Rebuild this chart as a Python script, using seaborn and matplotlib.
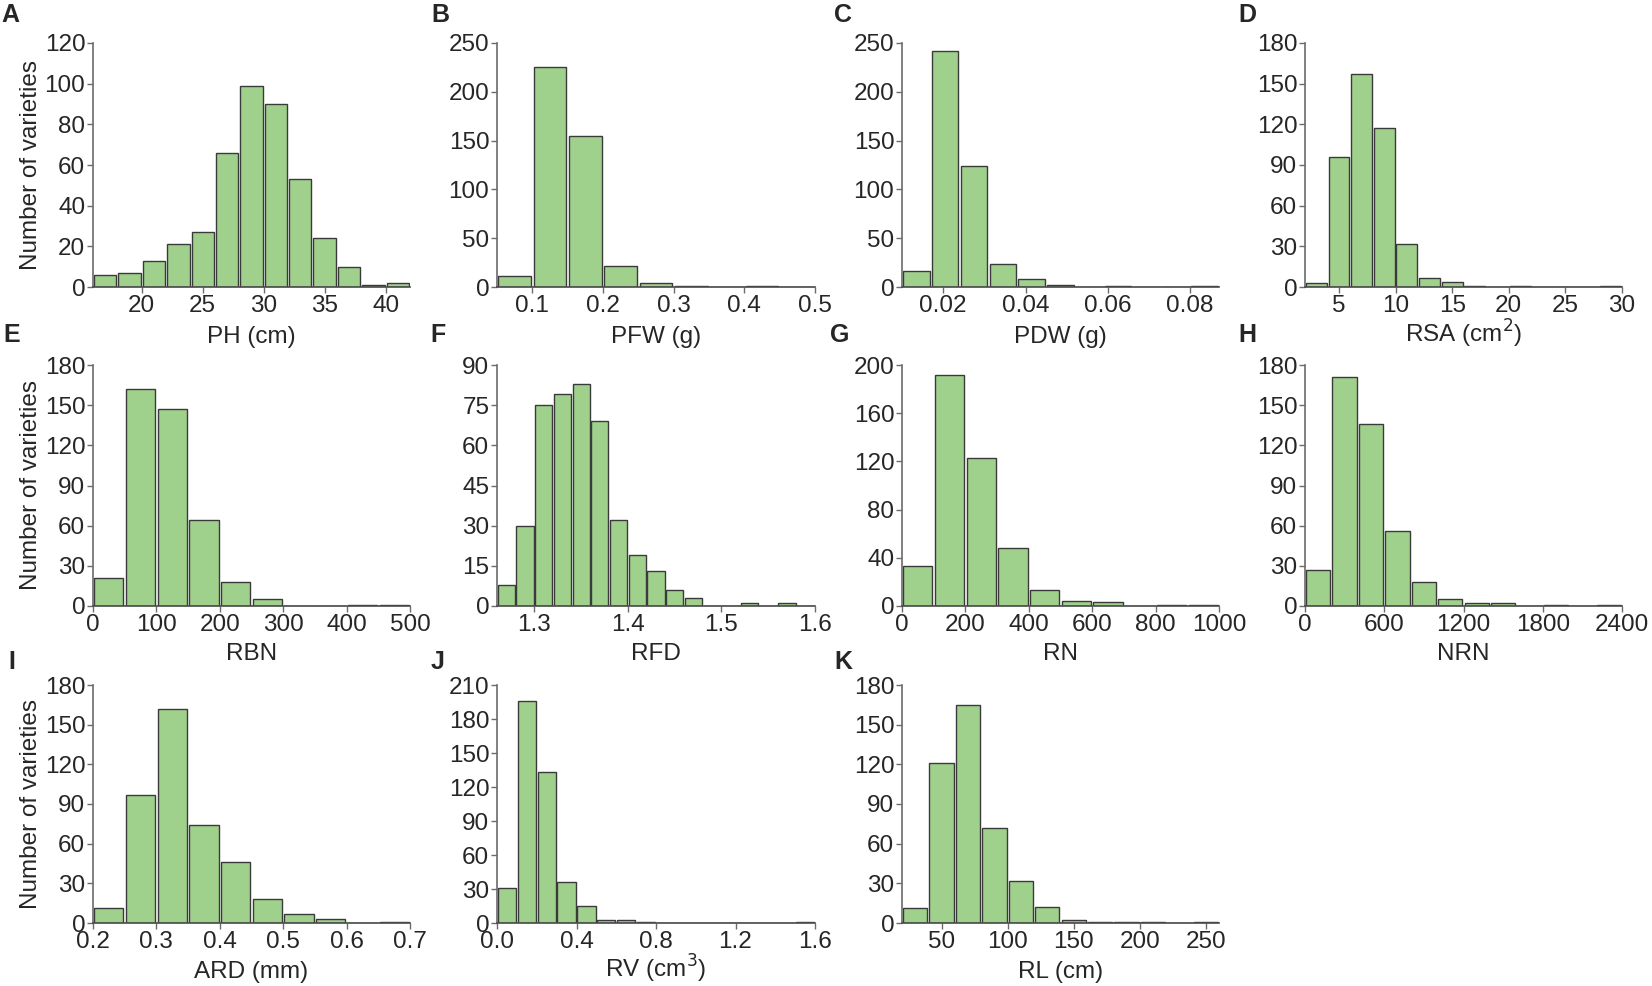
import numpy as np
import pandas as pd
import matplotlib
matplotlib.use("Agg")
import matplotlib.pyplot as plt
import seaborn as sns

sns.set_theme(style="ticks")
plt.rcParams["font.family"] = ["Liberation Sans", "DejaVu Sans"]

# ---------------- data (bin start, bin width, counts per bin) ----------------
PH_start, PH_width = 16, 2
PH_counts = [6, 7, 13, 21, 27, 66, 99, 90, 53, 24, 10, 1, 2]

PFW_start, PFW_width = 0.05, 0.05
PFW_counts = [11, 225, 155, 22, 4, 1, 0, 1, 0]

PDW_start, PDW_width = 0.01, 0.007
PDW_counts = [16, 242, 124, 24, 8, 2, 0, 1, 0, 0, 1]

RSA_start, RSA_width = 2, 2
RSA_counts = [3, 96, 157, 117, 32, 7, 4, 1, 0, 1, 0, 0, 0, 1]

RBN_start, RBN_width = 0, 50
RBN_counts = [21, 162, 147, 64, 18, 5, 0, 0, 1, 1]

RFD_start, RFD_width = 1.26, 0.02
RFD_counts = [8, 30, 75, 79, 83, 69, 32, 19, 13, 6, 3, 0, 0, 1, 0, 1, 0]

RN_start, RN_width = 0, 100
RN_counts = [33, 192, 123, 48, 13, 4, 3, 0, 1, 1]

NRN_start, NRN_width = 0, 200
NRN_counts = [27, 171, 136, 56, 18, 5, 2, 2, 0, 1, 0, 1]

ARD_start, ARD_width = 0.2, 0.05
ARD_counts = [11, 97, 162, 74, 46, 18, 7, 3, 0, 1]

RV_start, RV_width = 0.0, 0.1
RV_counts = [31, 196, 133, 36, 15, 3, 3, 1, 0, 0, 0, 0, 0, 0, 0, 1]

RL_start, RL_width = 20, 20
RL_counts = [11, 121, 165, 72, 32, 12, 2, 1, 1, 1, 0, 1]

# axis settings
panel_letters = ["A", "B", "C", "D", "E", "F", "G", "H", "I", "J", "K"]
x_labels = ["PH (cm)", "PFW (g)", "PDW (g)", "RSA (cm$^2$)", "RBN", "RFD",
            "RN", "NRN", "ARD (mm)", "RV (cm$^3$)", "RL (cm)"]
x_limits = [(16, 42), (0.05, 0.5), (0.01, 0.087), (2, 30), (0, 500), (1.26, 1.6),
            (0, 1000), (0, 2400), (0.2, 0.7), (0.0, 1.6), (20, 260)]
x_ticks = [[20, 25, 30, 35, 40], [0.1, 0.2, 0.3, 0.4, 0.5], [0.02, 0.04, 0.06, 0.08],
           [5, 10, 15, 20, 25, 30], [0, 100, 200, 300, 400, 500], [1.3, 1.4, 1.5, 1.6],
           [0, 200, 400, 600, 800, 1000], [0, 600, 1200, 1800, 2400],
           [0.2, 0.3, 0.4, 0.5, 0.6, 0.7], [0.0, 0.4, 0.8, 1.2, 1.6], [50, 100, 150, 200, 250]]
x_ticklabels = [["20", "25", "30", "35", "40"], ["0.1", "0.2", "0.3", "0.4", "0.5"],
                ["0.02", "0.04", "0.06", "0.08"], ["5", "10", "15", "20", "25", "30"],
                ["0", "100", "200", "300", "400", "500"], ["1.3", "1.4", "1.5", "1.6"],
                ["0", "200", "400", "600", "800", "1000"], ["0", "600", "1200", "1800", "2400"],
                ["0.2", "0.3", "0.4", "0.5", "0.6", "0.7"], ["0.0", "0.4", "0.8", "1.2", "1.6"],
                ["50", "100", "150", "200", "250"]]
y_max = [120, 250, 250, 180, 180, 90, 200, 180, 180, 210, 180]
y_step = [20, 50, 50, 30, 30, 15, 40, 30, 30, 30, 30]

series = [(PH_start, PH_width, PH_counts), (PFW_start, PFW_width, PFW_counts),
          (PDW_start, PDW_width, PDW_counts), (RSA_start, RSA_width, RSA_counts),
          (RBN_start, RBN_width, RBN_counts), (RFD_start, RFD_width, RFD_counts),
          (RN_start, RN_width, RN_counts), (NRN_start, NRN_width, NRN_counts),
          (ARD_start, ARD_width, ARD_counts), (RV_start, RV_width, RV_counts),
          (RL_start, RL_width, RL_counts)]

# ---------------- layout ----------------
W, H = 1652, 986
fig = plt.figure(figsize=(W / 100, H / 100), dpi=100)

col_px = [(93, 410), (497, 815), (902, 1219), (1305, 1622)]
row_px = [(43, 287), (365, 606), (685, 923)]
label_drop_px = [56, 54, 55]   # baseline of x label below the x axis
letter_px = [(10, 15), (440, 15), (843, 15), (1247, 15),
             (12, 335), (438, 335), (840, 335), (1247, 335),
             (12, 662), (438, 662), (843, 662)]

bar_color = "#9FD18C"
edge_color = "#3A3A3A"
spine_color = "#6B6B6B"
fs = 17.5

for i, (start, width, counts) in enumerate(series):
    r, c = divmod(i, 4)
    x0, x1 = col_px[c]
    yt, yb = row_px[r]
    ax = fig.add_axes([x0 / W, 1 - yb / H, (x1 - x0) / W, (yb - yt) / H])
    n = len(counts)
    centers = start + width * (np.arange(n) + 0.5)
    df = pd.DataFrame({"value": centers, "count": counts})
    sns.histplot(data=df, x="value", weights="count", binwidth=width,
                 binrange=(start, start + n * width), shrink=0.92,
                 color=bar_color, edgecolor=edge_color, linewidth=1.0,
                 alpha=1.0, ax=ax)
    ax.set_xlim(*x_limits[i])
    ax.set_ylim(0, y_max[i])
    ax.set_yticks(np.arange(0, y_max[i] + 1, y_step[i]))
    ax.set_xticks(x_ticks[i])
    ax.set_xticklabels(x_ticklabels[i])
    ax.tick_params(axis="both", labelsize=fs, length=4, width=1,
                   color=spine_color, pad=1.5)
    for s in ["top", "right"]:
        ax.spines[s].set_visible(False)
    ax.spines["left"].set_color(spine_color)
    ax.spines["bottom"].set_color("#4A4A4A")
    for s in ["left", "bottom"]:
        ax.spines[s].set_linewidth(1.2)
    ax.set_xlabel(x_labels[i], fontsize=fs, va="baseline")
    ax.xaxis.set_label_coords(0.5, -label_drop_px[r] / (yb - yt))
    if c == 0:
        ax.set_ylabel("Number of varieties", fontsize=fs, labelpad=2)
    else:
        ax.set_ylabel("")
    lx, ly = letter_px[i]
    fig.text(lx / W, 1 - ly / H, panel_letters[i], fontsize=18, fontweight="bold",
             va="center", ha="center")

fig.savefig("out.png", dpi=100)
